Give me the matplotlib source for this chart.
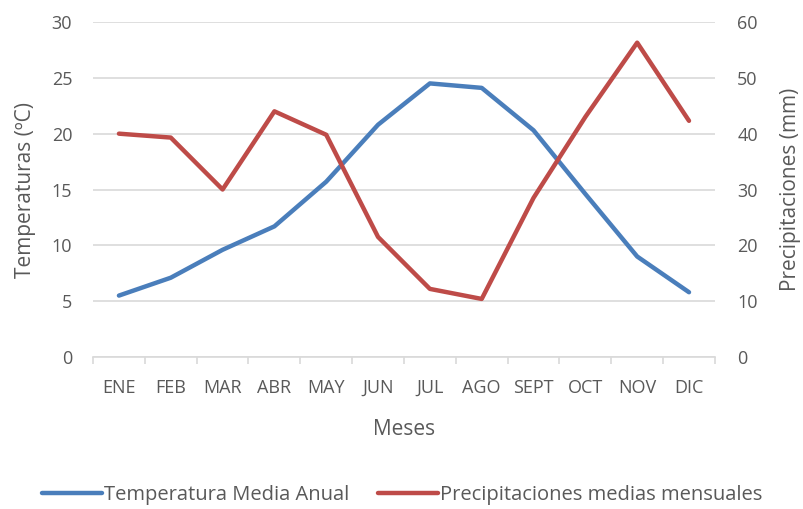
import numpy as np
import matplotlib
matplotlib.use("Agg")
import matplotlib.pyplot as plt

months = ['ENE', 'FEB', 'MAR', 'ABR', 'MAY', 'JUN', 'JUL', 'AGO', 'SEPT', 'OCT', 'NOV', 'DIC']
temperatura = [5.5, 7.1, 9.6, 11.7, 15.7, 20.8, 24.5, 24.1, 20.3, 14.6, 9.0, 5.8]
precipitaciones = [40.0, 39.3, 30.0, 44.0, 39.8, 21.5, 12.2, 10.4, 28.5, 43.0, 56.3, 42.3]

blue = '#4A7EBB'
red = '#BE4B48'
txt = '#595959'
grid = '#D9D9D9'

plt.rcParams['font.family'] = ['Open Sans', 'DejaVu Sans']

fig = plt.figure(figsize=(8.04, 5.09), dpi=100)
ax = fig.add_axes([0.1157, 0.2986, 0.7735, 0.6582])
ax2 = ax.twinx()

x = np.arange(len(months))
l1, = ax.plot(x, temperatura, color=blue, lw=3.2, solid_capstyle='round',
              label='Temperatura Media Anual', zorder=3)
l2, = ax2.plot(x, precipitaciones, color=red, lw=3.2, solid_capstyle='round',
               label='Precipitaciones medias mensuales', zorder=3)

ax.set_xlim(-0.5, 11.5)
ax.set_ylim(0, 30)
ax2.set_ylim(0, 60)
ax.set_yticks(range(0, 31, 5))
ax2.set_yticks(range(0, 61, 10))
ax.yaxis.grid(True, color=grid, lw=1.2)
ax.set_axisbelow(True)

ax.set_xticks(x)
ax.set_xticklabels(months)
ax.set_xticks(np.arange(-0.5, 12, 1), minor=True)
ax.tick_params(axis='x', which='major', length=0, pad=16, labelsize=13, labelcolor=txt)
ax.tick_params(axis='x', which='minor', length=5, color=grid, width=1.2)
ax.tick_params(axis='y', length=0, pad=15, labelsize=13, labelcolor=txt)
ax2.tick_params(axis='y', length=0, pad=16, labelsize=13, labelcolor=txt)

for a in (ax, ax2):
    for s in a.spines.values():
        s.set_visible(False)
ax.spines['bottom'].set_visible(True)
ax.spines['bottom'].set_color(grid)
ax.spines['bottom'].set_linewidth(1.2)

ax.set_ylabel('Temperaturas (ºC)', fontsize=15, color=txt, labelpad=11)
ax2.set_ylabel('Precipitaciones (mm)', fontsize=15, color=txt, labelpad=16)
ax.set_xlabel('Meses', fontsize=15, color=txt, labelpad=16)

fig.legend(handles=[l1, l2], loc='lower center', bbox_to_anchor=(0.5, -0.028),
           ncol=2, frameon=False, fontsize=14.5, handlelength=3.0,
           handletextpad=0.1, columnspacing=1.4, labelcolor=txt)

fig.savefig('out.png', dpi=100, facecolor='white')
